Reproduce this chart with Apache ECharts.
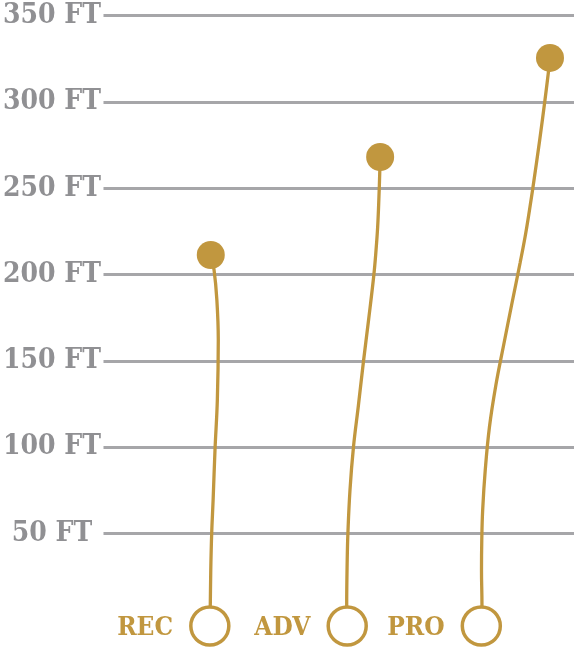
<!DOCTYPE html>
<html>
<head>
<meta charset="utf-8">
<style>
  html, body { margin: 0; padding: 0; background: #ffffff; }
  #chart { width: 574px; height: 649px; }
</style>
<script src="https://cdn.jsdelivr.net/npm/echarts@6/dist/echarts.min.js"></script>
</head>
<body>
<div id="chart"></div>
<script>
// ---- data ----
const yTicks = [0, 50, 100, 150, 200, 250, 300, 350];
const yTickLabels = ['', '50 FT', '100 FT', '150 FT', '200 FT', '250 FT', '300 FT', '350 FT'];
const categories = ['REC', 'ADV', 'PRO'];
const baseX = [22.6, 51.8, 80.3];
const baseY = [-3.7, -3.7, -3.7];
const topX = [22.8, 58.8, 94.9];
const topY = [211.3, 268.1, 325.5];
const recPath = [[22.6, -3.7], [22.7, 8.5], [22.8, 28.7], [23.0, 50.2], [23.3, 69.3], [23.7, 98.3], [24.2, 127.4], [24.4, 162.0], [24.1, 185.2], [23.5, 202.6], [22.8, 211.3]];
const advPath = [[51.7, -3.7], [51.69, 8.46], [51.80, 34.54], [51.95, 50.19], [52.39, 75.12], [53.13, 100.04], [54.19, 124.39], [55.24, 149.31], [56.34, 173.65], [57.46, 199.73], [57.93, 214.22], [58.27, 227.55], [58.52, 243.2], [58.73, 260.59], [58.77, 268.13]];
const proPath = [[80.4, -3.7], [80.44, 8.46], [80.34, 28.75], [80.40, 46.14], [80.59, 63.52], [81.14, 86.71], [82.03, 111.63], [83.40, 135.97], [85.05, 159.16], [86.74, 182.34], [88.54, 206.69], [89.75, 224.08], [90.87, 243.2], [91.44, 253.63], [92.71, 277.97], [93.83, 301.16], [94.36, 312.75], [94.93, 325.5]];
const paths = [recPath, advPath, proPath];

// ---- style ----
const GOLD = '#c1973f';
const GRAY_TEXT = '#909093';
const GRAY_LINE = '#a6a6a9';
const FONT = '"DejaVu Serif Condensed", "DejaVu Serif", serif';

const chart = echarts.init(document.getElementById('chart'), null, { renderer: 'canvas' });

const lineSeries = paths.map((p, i) => ({
  name: categories[i],
  type: 'line',
  data: p,
  smooth: 0.4,
  showSymbol: false,
  symbol: 'none',
  lineStyle: { color: GOLD, width: 3.3 },
  z: 2,
  silent: true
}));

const option = {
  animation: false,
  backgroundColor: '#ffffff',
  grid: { left: 101, right: 0, top: 15.7, bottom: 29.4, containLabel: false },
  xAxis: {
    type: 'value', min: 0, max: 100, show: false
  },
  yAxis: {
    type: 'value', min: 0, max: 350, interval: 50,
    axisLine: { show: false },
    axisTick: { show: false },
    axisLabel: {
      align: 'center',
      margin: 51.5,
      color: GRAY_TEXT,
      fontFamily: FONT,
      fontWeight: 'bold',
      fontSize: 28,
      formatter: v => yTickLabels[yTicks.indexOf(v)] || ''
    },
    splitLine: {
      show: true,
      lineStyle: {
        width: 3,
        color: yTicks.map(v => v === 0 ? 'rgba(0,0,0,0)' : GRAY_LINE)
      }
    }
  },
  series: [
    ...lineSeries,
    {
      type: 'scatter',
      name: 'top',
      data: topX.map((x, i) => [x, topY[i]]),
      symbol: 'circle',
      symbolSize: 28,
      itemStyle: { color: GOLD, opacity: 1 },
      clip: false,
      z: 3,
      silent: true
    },
    {
      type: 'scatter',
      name: 'base',
      data: baseX.map((x, i) => ({ value: [x, baseY[i]], name: categories[i] })),
      symbol: 'circle',
      symbolSize: 38,
      itemStyle: { color: '#ffffff', borderColor: GOLD, borderWidth: 3.5, opacity: 1 },
      label: {
        show: true,
        position: 'left',
        distance: 16,
        offset: [0, 2],
        formatter: p => p.name,
        color: GOLD,
        fontFamily: FONT,
        fontWeight: 'bold',
        fontSize: 26
      },
      clip: false,
      z: 4,
      silent: true
    }
  ]
};

chart.setOption(option);
</script>
</body>
</html>
